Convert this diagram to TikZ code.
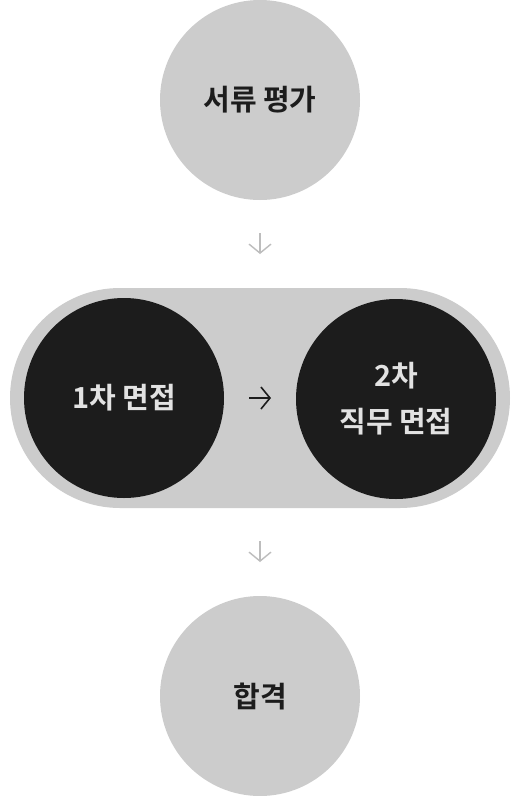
\documentclass[tikz,border=0pt]{standalone}
\usepackage{fontspec}
\newfontfamily\kr{Noto Sans CJK KR Bold}
\usetikzlibrary{arrows.meta}
\definecolor{lightg}{HTML}{CCCCCC}
\definecolor{darkb}{HTML}{1C1C1C}
\definecolor{lighttxt}{HTML}{E2E2E2}
\definecolor{arrowg}{HTML}{BDBDBD}
\begin{document}
\begin{tikzpicture}[x=1pt,y=-1pt,
  graycirc/.style={circle,fill=lightg,minimum size=200pt,inner sep=0pt,text=darkb,font=\kr\fontsize{29}{34}\selectfont},
  blackcirc/.style={circle,fill=darkb,minimum size=200pt,inner sep=0pt,text=lighttxt,font=\kr\fontsize{29}{46}\selectfont,align=center},
  downarr/.style={draw=arrowg,line width=1.4pt,-{Straight Barb[length=9pt,width=22pt,line width=1.4pt]}},
  rightarr/.style={draw=darkb,line width=1.6pt,-{Straight Barb[length=9pt,width=22pt,line width=1.6pt]}}]
\useasboundingbox (0,0) rectangle (520,796);
\fill[white] (0,0) rectangle (520,796);
\fill[lightg,rounded corners=110pt] (10,288) rectangle (510,508);
\node[graycirc] (a) at (260,100) {서류 평가};
\node[blackcirc] (b) at (124,398) {1차 면접};
\node[blackcirc] (c) at (396,399) {2차\\직무 면접};
\node[graycirc] (d) at (260,696) {합격};
\coordinate (a1) at (260,233);
\coordinate (a2) at (260,254);
\coordinate (b1) at (249,398);
\coordinate (b2) at (271,398);
\coordinate (c1) at (260,541);
\coordinate (c2) at (260,562);
\draw[downarr] (a1) -- (a2);
\draw[rightarr] (b1) -- (b2);
\draw[downarr] (c1) -- (c2);
\end{tikzpicture}
\end{document}
